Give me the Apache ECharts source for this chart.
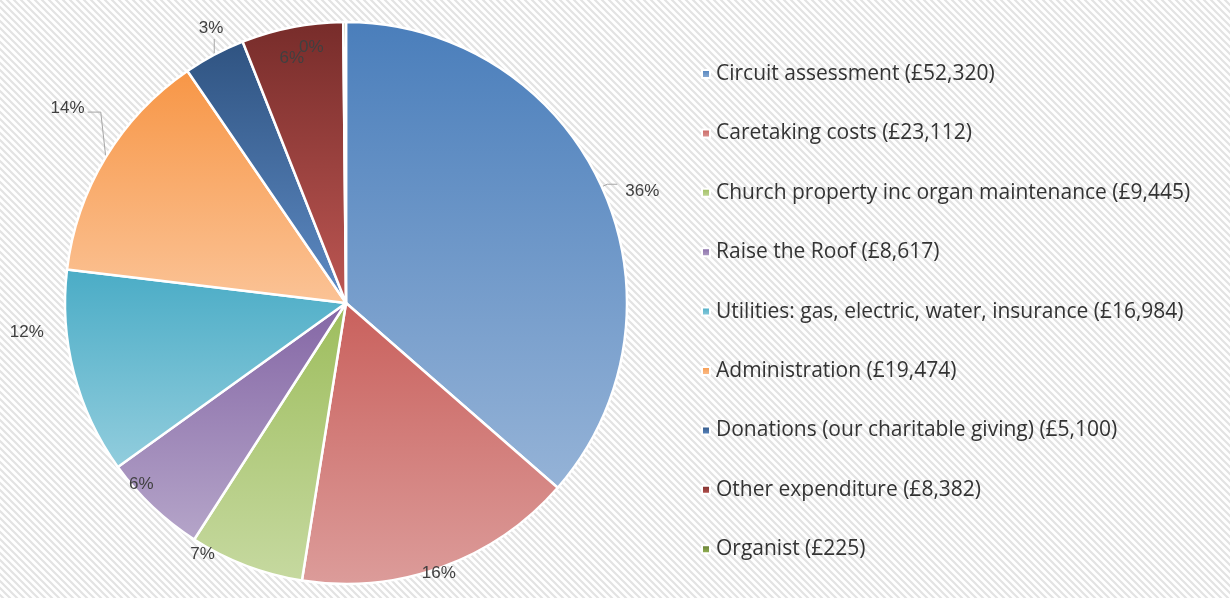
<!DOCTYPE html>
<html>
<head>
<meta charset="utf-8">
<script src="https://cdn.jsdelivr.net/npm/echarts@6/dist/echarts.min.js"></script>
<style>
  html, body { margin: 0; padding: 0; background: #fff; }
  #chart { width: 1230px; height: 598px; }
</style>
</head>
<body>
<div id="chart"></div>
<script>
const categories = [
  "Circuit assessment",
  "Caretaking costs",
  "Church property inc organ maintenance",
  "Raise the Roof",
  "Utilities: gas, electric, water, insurance",
  "Administration",
  "Donations (our charitable giving)",
  "Other expenditure",
  "Organist",
];
const amounts = [52320, 23112, 9445, 8617, 16984, 19474, 5100, 8382, 225];

// Excel-style vertical gradients: top shade, bottom shade
const topColors = ["#4a7ebb", "#c9605c", "#9dbd5c", "#8466a5", "#4aacc6", "#f79646", "#2f5381", "#772c2a", "#5f7530"];
const bottomColors = ["#95b3d7", "#dc9c9a", "#c6d9a0", "#b5a5c9", "#92cddd", "#fbc396", "#5e8bc4", "#bd5753", "#9bbb59"];

// label nudges (px) to mimic Excel's best-fit placement
const labelNudge = [
  [4, 7], [-24, 6], [-27, -11], [5, -23], [-26, -41], [-2, -46], [26, -21], [16, 31], [-17, 25],
];
// leader line: none, radial, elbow (up then across), vertical
const leader = ["radial", "none", "none", "none", "none", "elbow", "vertical", "none", "none"];

function stripes() {
  const p = 7;
  const c = document.createElement("canvas");
  c.width = p;
  c.height = p;
  const ctx = c.getContext("2d");
  ctx.fillStyle = "#ffffff";
  ctx.fillRect(0, 0, p, p);
  ctx.strokeStyle = "#e3e3e3";
  ctx.lineWidth = 2.2;
  ctx.beginPath();
  for (const off of [-p, 0, p]) {
    ctx.moveTo(off - 1, -1);
    ctx.lineTo(off + p + 1, p + 1);
  }
  ctx.stroke();
  return c;
}

const chart = echarts.init(document.getElementById("chart"));

const seriesData = categories.map((name, i) => ({
  name,
  value: amounts[i],
  itemStyle: {
    color: new echarts.graphic.LinearGradient(0, 0, 0, 1, [
      { offset: 0, color: topColors[i] },
      { offset: 1, color: bottomColors[i] },
    ]),
  },
  labelLine: leader[i] !== "none"
    ? { show: true, length: 6, length2: 10 }
    : { show: false, length: 0, length2: 0 },
}));

chart.setOption({
  backgroundColor: { image: stripes(), repeat: "repeat" },
  animation: false,
  legend: {
    orient: "vertical",
    left: 696,
    top: 57,
    itemWidth: 8,
    itemHeight: 8,
    itemGap: 35.4,
    icon: "rect",
    data: categories,
    formatter: (name) => {
      const i = categories.indexOf(name);
      return `${name} (£${amounts[i].toLocaleString("en-GB")})`;
    },
    textStyle: {
      color: "#333333",
      fontFamily: "Open Sans",
      fontSize: 21,
      lineHeight: 24,
      padding: [0, 0, 0, 1],
    },
  },
  series: [
    {
      type: "pie",
      center: [346, 303],
      radius: 281,
      startAngle: 90,
      clockwise: true,
      percentPrecision: 0,
      avoidLabelOverlap: false,
      data: seriesData,
      itemStyle: {
        borderColor: "#ffffff",
        borderWidth: 2.5,
      },
      label: {
        show: true,
        position: "outside",
        formatter: "{d}%",
        color: "#404040",
        fontFamily: "Liberation Sans",
        fontSize: 17,
        distanceToLabelLine: 4,
      },
      labelLine: {
        lineStyle: { color: "#a6a6a6", width: 1 },
      },
      labelLayout: (params) => {
        const i = params.dataIndex;
        const [dx, dy] = labelNudge[i];
        const out = { dx, dy };
        const pts = params.labelLinePoints;
        if (pts && leader[i] === "elbow") {
          const r = params.labelRect;
          const midY = r.y + dy + r.height / 2 + 4;
          const p0 = pts[0];
          out.labelLinePoints = [p0, [p0[0] - 5, midY], [r.x + dx + r.width + 3, midY]];
        } else if (pts && leader[i] === "vertical") {
          const r = params.labelRect;
          const p0 = pts[0];
          const endY = r.y + dy + r.height + 2;
          out.labelLinePoints = [p0, [p0[0], endY], [p0[0], endY]];
        }
        return out;
      },
    },
  ],
});
</script>
</body>
</html>
